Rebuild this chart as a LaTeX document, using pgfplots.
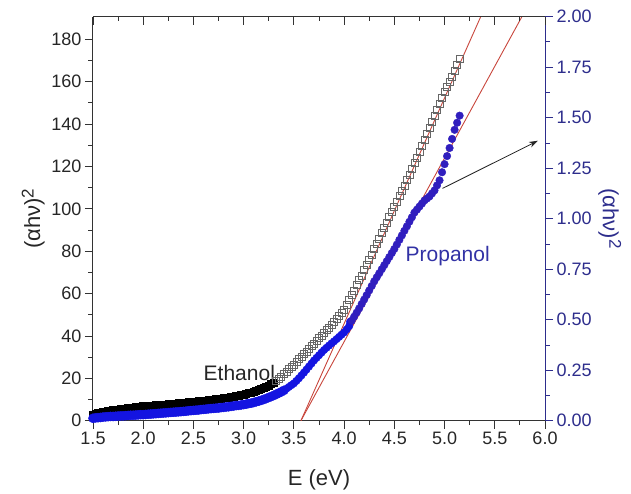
\documentclass[border=0pt]{standalone}
\usepackage{fontspec}
\setmainfont{Liberation Sans}
\usepackage{pgfplots}
\usepackage{pgfplotstable}
\pgfplotsset{compat=1.18}
\usetikzlibrary{arrows.meta}
\definecolor{navy}{RGB}{45,45,140}
\definecolor{pblue}{RGB}{20,20,225}
\definecolor{pdark}{RGB}{48,30,190}
\definecolor{fitred}{RGB}{200,70,60}
\definecolor{ptext}{RGB}{50,50,165}

\pgfplotstableread{
E y
1.500 3.0
1.525 3.3
1.550 3.6
1.575 3.9
1.600 4.2
1.625 4.4
1.650 4.6
1.675 4.8
1.700 5.0
1.725 5.2
1.750 5.35
1.775 5.5
1.800 5.7
1.825 5.85
1.850 6.0
1.875 6.15
1.900 6.3
1.925 6.4
1.950 6.55
1.975 6.7
2.000 6.8
2.025 6.9
2.050 7.0
2.075 7.1
2.100 7.2
2.125 7.3
2.150 7.4
2.175 7.5
2.200 7.6
2.225 7.7
2.250 7.8
2.275 7.9
2.300 8.0
2.325 8.1
2.350 8.25
2.375 8.4
2.400 8.5
2.425 8.6
2.450 8.75
2.475 8.9
2.500 9.0
2.525 9.1
2.550 9.2
2.575 9.3
2.600 9.4
2.625 9.55
2.650 9.7
2.675 9.85
2.700 10.0
2.725 10.15
2.750 10.3
2.775 10.45
2.800 10.6
2.825 10.8
2.850 11.0
2.875 11.2
2.900 11.4
2.925 11.65
2.950 11.9
2.975 12.15
3.000 12.4
3.025 12.7
3.050 13.0
3.075 13.35
3.100 13.7
3.125 14.1
3.150 14.5
3.175 14.9
3.200 15.4
3.225 16.0
3.250 16.6
3.275 17.3
3.300 18.0
3.325 18.9
3.350 19.9
3.375 20.9
3.400 22.0
3.425 23.2
3.450 24.3
3.475 25.4
3.500 26.5
3.525 27.7
3.550 29.0
3.575 30.2
3.600 31.5
3.625 32.7
3.650 34.0
3.675 35.2
3.700 36.5
3.725 37.7
3.750 39.0
3.775 40.2
3.800 41.5
3.825 42.7
3.850 44.0
3.875 45.2
3.900 46.5
3.925 47.9
3.950 49.4
3.975 50.9
4.000 52.5
4.025 54.7
4.050 56.9
4.075 59.2
4.100 61.5
4.125 63.9
4.150 66.3
4.175 68.6
4.200 71.0
4.225 73.5
4.250 76.0
4.275 78.5
4.300 81.0
4.325 83.5
4.350 86.0
4.375 88.5
4.400 91.0
4.425 93.5
4.450 96.0
4.475 98.5
4.500 101.0
4.525 103.5
4.550 106.0
4.575 108.5
4.600 111.0
4.625 113.6
4.650 116.2
4.675 118.9
4.700 121.5
4.725 124.2
4.750 127.0
4.775 129.7
4.800 132.5
4.825 135.4
4.850 138.2
4.875 141.1
4.900 144.0
4.925 146.7
4.950 149.5
4.975 152.2
5.000 155.0
5.025 157.5
5.050 160.0
5.075 162.5
5.100 165.0
5.125 168.0
5.150 171.0
}\ethanol

\pgfplotstableread{
E y
1.500 0.012
1.525 0.014
1.550 0.015
1.575 0.016
1.600 0.018
1.625 0.019
1.650 0.020
1.675 0.021
1.700 0.021
1.725 0.022
1.750 0.023
1.775 0.024
1.800 0.024
1.825 0.025
1.850 0.026
1.875 0.027
1.900 0.027
1.925 0.028
1.950 0.029
1.975 0.030
2.000 0.030
2.025 0.031
2.050 0.032
2.075 0.033
2.100 0.034
2.125 0.035
2.150 0.036
2.175 0.037
2.200 0.038
2.225 0.039
2.250 0.040
2.275 0.041
2.300 0.042
2.325 0.043
2.350 0.044
2.375 0.045
2.400 0.046
2.425 0.047
2.450 0.049
2.475 0.050
2.500 0.051
2.525 0.052
2.550 0.053
2.575 0.055
2.600 0.056
2.625 0.057
2.650 0.059
2.675 0.060
2.700 0.061
2.725 0.062
2.750 0.063
2.775 0.065
2.800 0.066
2.825 0.068
2.850 0.069
2.875 0.071
2.900 0.073
2.925 0.075
2.950 0.076
2.975 0.078
3.000 0.080
3.025 0.082
3.050 0.085
3.075 0.087
3.100 0.090
3.125 0.094
3.150 0.097
3.175 0.101
3.200 0.105
3.225 0.110
3.250 0.115
3.275 0.120
3.300 0.125
3.325 0.131
3.350 0.137
3.375 0.143
3.400 0.150
3.425 0.158
3.450 0.167
3.475 0.176
3.500 0.185
3.525 0.197
3.550 0.210
3.575 0.224
3.600 0.238
3.625 0.253
3.650 0.268
3.675 0.283
3.700 0.298
3.725 0.311
3.750 0.324
3.775 0.337
3.800 0.350
3.825 0.361
3.850 0.372
3.875 0.383
3.900 0.393
3.925 0.404
3.950 0.415
3.975 0.426
4.000 0.437
4.025 0.452
4.050 0.468
4.060 0.490
4.075 0.495
4.100 0.515
4.125 0.535
4.150 0.556
4.175 0.578
4.200 0.600
4.225 0.622
4.250 0.645
4.275 0.667
4.300 0.690
4.325 0.710
4.350 0.730
4.375 0.750
4.400 0.770
4.425 0.790
4.450 0.810
4.475 0.830
4.500 0.850
4.525 0.872
4.550 0.895
4.575 0.917
4.600 0.940
4.625 0.962
4.650 0.985
4.675 1.007
4.700 1.030
4.725 1.045
4.750 1.060
4.775 1.075
4.800 1.090
4.825 1.100
4.850 1.110
4.875 1.125
4.900 1.140
4.925 1.165
4.950 1.190
4.975 1.230
5.000 1.270
5.025 1.310
5.050 1.350
5.075 1.395
5.100 1.440
5.125 1.475
5.150 1.510
}\propanol

\begin{document}
\begin{tikzpicture}
\pgfplotsset{
  common/.style={
    width=452pt, height=404pt, scale only axis,
    xmin=1.5, xmax=6.0,
    xtick={1.5,2.0,2.5,3.0,3.5,4.0,4.5,5.0,5.5,6.0},
    minor x tick num=1,
    /pgf/number format/assume math mode=true,
    tick label style={font=\fontsize{18}{21}\selectfont, text=black!85},
    label style={font=\fontsize{22}{25}\selectfont},
    major tick length=8pt, minor tick length=4.5pt,
    every tick/.style={line width=0.9pt, black!80},
    axis line style={line width=1pt, black!80},
  },
}
% left axis: ethanol
\begin{axis}[common,
  axis x line*=bottom, axis y line*=left, tick align=outside,
  ymin=0, ymax=190.7,
  ytick={0,20,40,60,80,100,120,140,160,180}, minor y tick num=1,
  xticklabel style={/pgf/number format/.cd, fixed, fixed zerofill, precision=1},
  xlabel={E (eV)},
  ylabel={(αhν)\raisebox{0.55ex}{\fontsize{17}{17}\selectfont 2}},
  xlabel style={text=black!85, yshift=-18pt},
  ylabel style={text=black!85},
]
\addplot[only marks, mark=square*, mark size=3.5pt, restrict x to domain=1.5:3.31,
  mark options={draw=black, fill=black, line width=0.6pt}] table[x=E, y=y] {\ethanol};
\addplot[only marks, mark=square, mark size=3.5pt, restrict x to domain=3.32:5.2,
  mark options={draw=black!60, line width=0.7pt, fill=none}] table[x=E, y=y] {\ethanol};
\addplot[fitred, line width=0.9pt, no marks] coordinates {(3.57,0) (5.36,190.7)};
\node[anchor=base west, font=\fontsize{21}{24}\selectfont, text=black!85] at (axis cs:2.567,19.2) {Ethanol};
\end{axis}
% right axis: propanol
\begin{axis}[common,
  axis x line=none, axis y line*=right, tick align=outside,
  ymin=0, ymax=2.0,
  ytick={0,0.25,0.5,0.75,1.0,1.25,1.5,1.75,2.0}, minor y tick num=1,
  yticklabel style={text=navy, /pgf/number format/.cd, fixed, fixed zerofill, precision=2},
  y axis line style={navy, line width=1pt},
  every y tick/.style={navy, line width=0.9pt},
  ylabel={(αhν)\raisebox{0.55ex}{\fontsize{17}{17}\selectfont 2}},
  ylabel style={text=navy, rotate=180},
]
\addplot[only marks, mark=*, mark size=4.6pt, restrict x to domain=1.5:3.41,
  mark options={draw=pblue, fill=pblue}] table[x=E, y=y] {\propanol};
\addplot[only marks, mark=*, mark size=3.8pt, restrict x to domain=3.42:4.06,
  mark options={draw=pblue, fill=pblue}] table[x=E, y=y] {\propanol};
\addplot[only marks, mark=*, mark size=3.8pt, restrict x to domain=4.07:5.2,
  mark options={draw=pdark, fill=pdark}] table[x=E, y=y] {\propanol};
\addplot[fitred, line width=0.9pt, no marks] coordinates {(3.57,0) (5.77,2.0)};
\draw[-{Stealth[length=9pt,width=6pt]}, line width=0.8pt, black!85] (axis cs:4.98,1.15) -- (axis cs:5.93,1.386);
\node[anchor=base west, font=\fontsize{21}{24}\selectfont, text=ptext] at (axis cs:4.578,0.787) {Propanol};
\end{axis}
% top axis ticks (inward)
\begin{axis}[common,
  axis x line*=top, axis y line=none, tick align=inside,
  ymin=0, ymax=1, xticklabels={}, ytick=\empty,
]
\end{axis}
\pgfresetboundingbox
\path (current axis.south west) ++(-93pt,-72.3pt) rectangle ++(631pt,493pt);
\end{tikzpicture}
\end{document}
